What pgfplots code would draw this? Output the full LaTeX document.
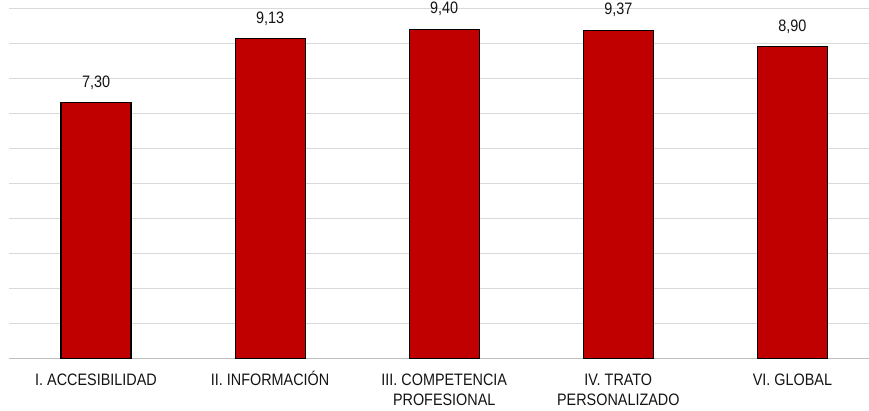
\documentclass[border=0pt]{standalone}
\usepackage{pgfplots}
\pgfplotsset{compat=1.18}
\usepackage{fontspec}
\setmainfont{Liberation Sans}
\usepackage{graphicx}

\definecolor{barred}{RGB}{192,0,0}
\definecolor{gridgray}{RGB}{217,217,217}
\definecolor{basegray}{RGB}{191,191,191}
\definecolor{txt}{RGB}{20,20,20}

\newcommand\lbl[1]{\scalebox{1}[1.15]{\begin{tabular}{@{}c@{}}#1\end{tabular}}}

\begin{document}
\begin{tikzpicture}[x=1pt,y=1pt]
\path[use as bounding box] (-4.5,-26.35) rectangle (430,179.15);
\begin{axis}[
  at={(0,0)}, anchor=south west,
  scale only axis,
  width=430pt, height=175pt,
  xmin=-0.5, xmax=4.44,
  ymin=0, ymax=10,
  ytick={0,1,...,10},
  yticklabels={},
  ymajorgrids,
  major grid style={gridgray, line width=0.6pt},
  major tick length=0pt,
  axis line style={draw=none},
  axis x line*=bottom,
  x axis line style={draw=basegray, line width=0.6pt},
  xtick=data,
  xticklabels={
    {\lbl{I. ACCESIBILIDAD}},
    {\lbl{II. INFORMACIÓN}},
    {\lbl{III. COMPETENCIA\\PROFESIONAL}},
    {\lbl{IV. TRATO\\PERSONALIZADO}},
    {\lbl{VI. GLOBAL}}},
  xticklabel style={font=\fontsize{7.2}{9.1}\selectfont, text=txt, anchor=north, yshift=-2.5pt},
  ybar, bar width=35pt,
  /pgf/number format/assume math mode=true,
  nodes near coords={\scalebox{1}[1.15]{\pgfmathprintnumber[fixed,fixed zerofill,precision=2,use comma,assume math mode=true]{\pgfplotspointmeta}}},
  every node near coord/.append style={font=\fontsize{7.2}{9}\selectfont, text=txt, anchor=south, yshift=3pt},
  clip=false,
]
\addplot[fill=barred, draw=black, line width=0.6pt] coordinates {
  (0,7.30) (1,9.13) (2,9.40) (3,9.37) (4,8.90)
};
\end{axis}
\end{tikzpicture}
\end{document}
